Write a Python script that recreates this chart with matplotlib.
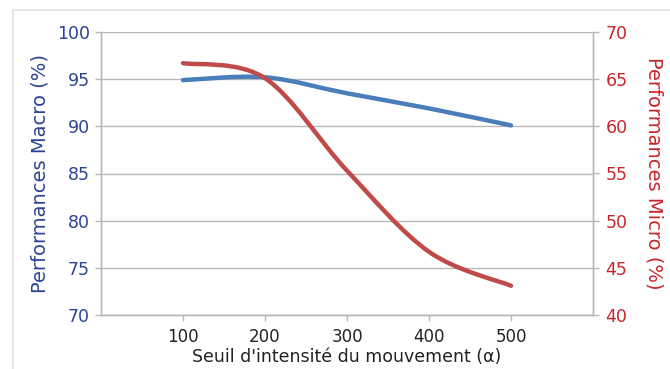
import matplotlib
matplotlib.use("Agg")
import matplotlib.pyplot as plt
from matplotlib.path import Path
from matplotlib.patches import PathPatch, Rectangle

# ---- data ----
x_vals = [100, 200, 300, 400, 500]
macro = [94.9, 95.2, 93.5, 91.9, 90.1]
micro = [66.7, 65.1, 55.3, 46.7, 43.1]
x_ticks = [100, 200, 300, 400, 500]
left_ticks = [70, 75, 80, 85, 90, 95, 100]
right_ticks = [40, 45, 50, 55, 60, 65, 70]

BLUE_LINE = "#4A7EBB"
RED_LINE = "#BE4B48"
BLUE_TXT = "#2B4593"
RED_TXT = "#C8262C"
GRID = "#B8B8B8"

plt.rcParams['font.family'] = ['DejaVu Sans']


def smooth_path(xs, ys):
    """Excel-like smoothed line: cubic Bezier through data points."""
    n = len(xs)
    verts = [(xs[0], ys[0])]
    codes = [Path.MOVETO]
    for i in range(n - 1):
        p0 = (xs[i - 1], ys[i - 1]) if i > 0 else (xs[i], ys[i])
        p1 = (xs[i], ys[i])
        p2 = (xs[i + 1], ys[i + 1])
        p3 = (xs[i + 2], ys[i + 2]) if i + 2 < n else p2
        c1 = (p1[0] + (p2[0] - p0[0]) / 6, p1[1] + (p2[1] - p0[1]) / 6)
        c2 = (p2[0] - (p3[0] - p1[0]) / 6, p2[1] - (p3[1] - p1[1]) / 6)
        verts += [c1, c2, p2]
        codes += [Path.CURVE4] * 3
    return Path(verts, codes)


fig = plt.figure(figsize=(6.7, 3.69), dpi=100)
fig.patches.append(Rectangle((13 / 670, -0.05), 700 / 670, 1 - 10 / 369 + 0.05,
                             transform=fig.transFigure, fill=False,
                             edgecolor="#E2E2E2", linewidth=1.2))

ax = fig.add_axes([101 / 670, 1 - 315 / 369, 492 / 670, 283 / 369])
ax2 = ax.twinx()

ax.set_xlim(0, 600)
ax.set_ylim(70, 100)
ax2.set_ylim(40, 70)

ax.set_yticks(left_ticks)
ax2.set_yticks(right_ticks)
ax.set_xticks(x_ticks)

ax.grid(axis='y', color=GRID, linewidth=1.0)
ax.set_axisbelow(True)

ax.add_patch(PathPatch(smooth_path(x_vals, macro), fill=False,
                       edgecolor=BLUE_LINE, linewidth=3.2, capstyle='round',
                       zorder=3))
ax2.add_patch(PathPatch(smooth_path(x_vals, micro), fill=False,
                        edgecolor=RED_LINE, linewidth=3.2, capstyle='round',
                        zorder=3))

for a in (ax, ax2):
    a.spines['top'].set_visible(False)
    for s in ('left', 'right', 'bottom'):
        a.spines[s].set_color(GRID)
        a.spines[s].set_linewidth(1.0)

ax.tick_params(axis='y', colors=GRID, labelcolor=BLUE_TXT, labelsize=12.5,
               length=4, width=1, pad=4)
ax2.tick_params(axis='y', colors=GRID, labelcolor=RED_TXT, labelsize=12.5,
                length=4, width=1, pad=5)
ax.tick_params(axis='x', colors=GRID, labelcolor="#222222", labelsize=12,
               length=4, width=1, pad=5)

ax.set_ylabel("Performances Macro (%)", color=BLUE_TXT, fontsize=14,
              labelpad=5)
ax2.set_ylabel("Performances Micro (%)", color=RED_TXT, fontsize=14,
               rotation=270, labelpad=26)
ax.set_xlabel("Seuil d'intensité du mouvement (α)", color="#222222",
              fontsize=12.5, labelpad=2)

fig.savefig("out.png", dpi=100)
